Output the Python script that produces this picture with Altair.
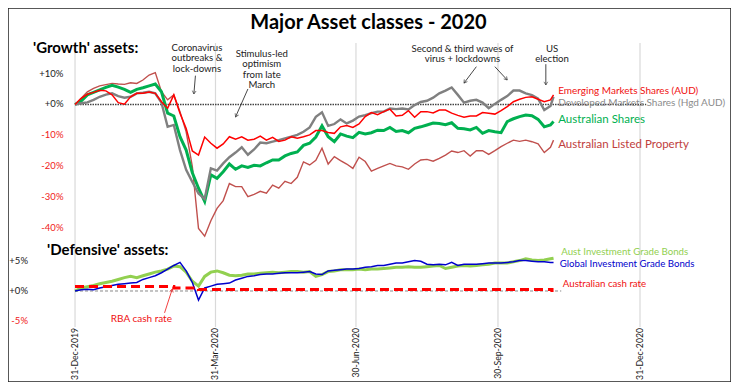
import altair as alt
import pandas as pd

# ---------------- data ----------------
grid_start = "2019-12-31"
n_grid = 78            # one reading every 4 days
end_date = "2020-11-05"

em_shares = [0, 2.0, 3.3, 3.9, 4.6, 4.4, 3.1, 0.6, 0.1, 2.5, 3.6, 3.6, 4.0, 3.6, 0.9, -1.2, 3.1, -2.8, -7.7, -15.0,
             -16.3, -10.5, -12.5, -14.1, -12.7, -10.4, -11.2, -10.4, -11.5, -11.2, -10.2, -11.5, -10.6, -11.9, -11.5, -10.4, -10.9, -10.4, -9.8, -8.4,
             -8.4, -9.0, -9.3, -7.2, -6.8, -7.4, -6.3, -3.9, -2.6, -3.3, -2.3, -1.5, -3.7, -3.5, -2.0, -4.1, -2.3, -2.3, -2.7, -1.8,
             -1.8, -2.8, -3.5, -4.1, -3.7, -3.7, -2.6, -2.8, -3.1, -2.0, -0.7, 0.9, 1.7, 2.3, 2.5, 1.7, 0.9, 1.5, 3.1]
dm_shares = [0, 0.4, 0.7, 1.5, 2.5, 3.2, 3.6, 2.7, 2.2, 2.5, 3.6, 3.8, 4.1, 3.6, 0.6, -7.2, -6.6, -14.7, -21.1, -25.0,
             -28.7, -30.5, -20.6, -21.3, -19.0, -17.0, -15.5, -13.8, -16.2, -14.5, -12.3, -12.5, -12.0, -11.5, -10.9, -10.4, -9.8, -8.8, -7.4, -4.0,
             -2.5, -6.9, -6.3, -4.8, -6.1, -5.2, -3.9, -3.4, -2.8, -2.3, -2.3, -1.3, -1.5, -1.3, -1.6, -0.2, 0.8, 1.2, 2.2, 3.6,
             4.5, 5.5, 3.1, 0.6, 1.2, 1.5, 0.6, -1.2, 0.2, 1.5, 2.7, 4.5, 4.5, 3.6, 3.0, 1.9, -1.8, -0.5, 2.5]
aus_shares = [0, 1.1, 3.1, 3.9, 4.7, 5.5, 6.2, 5.6, 4.9, 3.9, 4.9, 5.4, 6.0, 6.6, 4.1, -2.8, -3.7, -10.4, -14.7, -22.0,
              -27.0, -31.3, -22.7, -23.8, -21.7, -19.2, -20.9, -19.8, -20.3, -19.6, -19.8, -18.8, -17.9, -17.9, -16.6, -15.8, -15.3, -13.2, -12.5, -10.5,
              -6.9, -10.4, -12.0, -9.5, -10.2, -10.7, -9.0, -9.5, -9.1, -8.3, -8.4, -7.4, -8.7, -8.4, -9.1, -7.7, -7.2, -6.6, -6.0, -6.1,
              -6.5, -5.9, -7.7, -7.8, -8.2, -7.4, -9.3, -8.4, -8.8, -9.1, -5.5, -4.6, -3.9, -3.4, -3.6, -4.8, -7.2, -6.6, -5.5]
aus_property = [0, 2.0, 4.1, 5.2, 6.0, 6.4, 6.8, 6.6, 6.5, 7.0, 6.8, 7.9, 9.5, 10.3, 4.1, 1.5, 3.1, -2.3, -8.8, -20.0,
                -40.0, -42.5, -37.5, -33.5, -31.0, -25.5, -26.5, -26.5, -29.7, -29.0, -28.0, -28.6, -26.0, -27.0, -24.8, -25.5, -23.5, -18.5, -19.5, -18.0,
                -14.1, -19.2, -16.8, -18.1, -19.2, -20.6, -17.0, -18.4, -21.5, -20.6, -19.8, -19.0, -19.8, -20.1, -20.9, -19.2, -17.9, -17.7, -18.3, -17.4,
                -16.3, -15.0, -15.5, -14.9, -16.6, -14.9, -14.9, -16.1, -14.9, -13.6, -12.5, -11.5, -11.9, -11.5, -12.0, -12.7, -15.5, -13.8, -11.5]
global_bonds = [0, 0.2, 0.3, 0.2, 0.5, 0.7, 0.9, 1.1, 1.2, 1.3, 1.4, 1.9, 2.2, 2.5, 3.0, 3.6, 4.2, 4.7, 3.3, 1.4,
                -1.5, 0.5, 0.8, 1.1, 1.2, 1.3, 1.8, 2.1, 2.4, 2.5, 2.7, 2.8, 2.8, 2.9, 3.0, 3.0, 3.0, 3.1, 3.2, 2.8,
                2.7, 3.3, 3.4, 3.5, 3.6, 3.6, 3.7, 3.9, 4.0, 4.2, 4.2, 4.4, 4.6, 4.6, 4.8, 5.0, 4.9, 4.4, 4.3, 4.4,
                4.3, 4.7, 4.2, 4.4, 4.4, 4.4, 4.5, 4.6, 4.6, 4.6, 4.7, 4.8, 5.0, 5.0, 4.9, 4.8, 4.8, 4.7, 4.7]
aus_bonds = [0, 0.5, 0.7, 0.9, 1.2, 1.4, 1.6, 1.9, 2.2, 2.4, 2.2, 2.5, 2.8, 3.1, 3.3, 3.6, 4.1, 4.0, 3.1, 1.6,
             0.8, 2.4, 3.1, 3.3, 3.0, 2.6, 2.5, 2.6, 2.8, 2.8, 2.9, 3.0, 3.1, 3.0, 3.1, 3.2, 3.2, 3.1, 3.2, 2.4,
             2.7, 3.2, 3.3, 3.5, 3.5, 3.5, 3.6, 3.5, 3.6, 3.6, 3.7, 3.8, 3.9, 3.9, 4.0, 3.9, 3.9, 4.0, 4.1, 4.2,
             3.7, 3.9, 4.1, 4.2, 4.1, 4.2, 4.3, 4.4, 4.6, 4.6, 4.6, 4.8, 5.0, 5.3, 5.1, 5.0, 5.1, 5.3, 5.4]

cash_dates = ["2019-12-31", "2020-03-04", "2020-03-20", "2020-11-04", "2020-11-05"]
cash_rate = [0.75, 0.5, 0.25, 0.1, 0.1]

# axis ticks
top_ticks = [10, 0, -10, -20, -30, -40]
top_tick_labels = ["+10%", "+0%", "-10%", "-20%", "-30%", "-40%"]
bot_ticks = [5, 0, -5]
bot_tick_labels = ["+5%", "+0%", "-5%"]
x_tick_dates = ["2019-12-31", "2020-03-31", "2020-06-30", "2020-09-30", "2020-12-31"]
x_tick_labels = ["31-Dec-2019", "31-Mar-2020", "30-Jun-2020", "30-Sep-2020", "31-Dec-2020"]

# end-of-line labels
top_label_texts = ["Emerging Markets Shares (AUD)", "Developed Markets Shares (Hgd AUD)",
                   "Australian Shares", "Australian Listed Property"]
top_label_values = [4.3, 0.6, -5.0, -13.1]
top_label_date = "2020-11-08"
bot_label_texts = ["Aust Investment Grade Bonds", "Global Investment Grade Bonds", "Australian cash rate", "RBA cash rate"]
bot_label_dates = ["2020-11-10", "2020-11-09", "2020-11-11", "2020-02-12"]
bot_label_values = [6.4, 4.4, 1.1, -4.6]

# annotations (top panel), one multi-line text each; value = first line position
ann_dates = ["2020-03-19", "2020-04-30", "2020-09-07", "2020-11-04"]
ann_values = [18.2, 16.3, 17.9, 17.9]
ann_texts = ["Coronavirus\noutbreaks &\nlock-downs", "Stimulus-led\noptimism\nfrom late\nMarch",
             "Second & third waves of\nvirus + lockdowns", "US\nelection"]
arrow_tail_dates = ["2020-03-18", "2020-04-21", "2020-09-16", "2020-09-28", "2020-10-31"]
arrow_tail_values = [9.3, 5.0, 12.2, 12.2, 13.0]
arrow_tip_dates = ["2020-03-17", "2020-04-13", "2020-09-08", "2020-10-06", "2020-10-31"]
arrow_tip_values = [3.4, -4.0, 6.9, 7.9, 6.3]
arrow_angles = [6, 24, 35, 319, 0]
rba_arrow = {"d1": "2020-02-27", "v1": -3.6, "d2": "2020-03-03", "v2": 0.33, "ang": 196}

# ---------------- layout / styles ----------------
W, H = 723, 374
FONT = "Lato"
X_DOMAIN = [alt.DateTime(year=2019, month=11, date=17, hours=14),
            alt.DateTime(year=2021, month=2, date=27, hours=23)]
TOP_DOMAIN = [-89.52, 31.13]
BOT_DOMAIN = [-14.97, 46.55]
ARROW_SHAPE = "M-0.6,-1L0,0L0.6,-1"

dates = list(pd.date_range(grid_start, periods=n_grid, freq="4D")) + [pd.Timestamp(end_date)]


def X(f="date"):
    return alt.X(f"{f}:T", scale=alt.Scale(domain=X_DOMAIN, nice=False), axis=None)


def YT(f="value"):
    return alt.Y(f"{f}:Q", scale=alt.Scale(domain=TOP_DOMAIN, nice=False, zero=False), axis=None)


def YB(f="value"):
    return alt.Y(f"{f}:Q", scale=alt.Scale(domain=BOT_DOMAIN, nice=False, zero=False), axis=None)


def series_df(vals):
    return pd.DataFrame({"date": dates, "value": vals})


layers = []

# vertical gridlines
grid_df = pd.DataFrame({"date": pd.to_datetime(x_tick_dates)})
layers.append(alt.Chart(grid_df).mark_rule(color="#D9D9D9", strokeWidth=1.2).encode(
    x=X(), y=alt.value(35), y2=alt.value(319)))

# zero lines
zt = pd.DataFrame({"d1": pd.to_datetime(["2019-12-31"]), "d2": pd.to_datetime(["2021-01-04"]), "value": [0]})
layers.append(alt.Chart(zt).mark_rule(color="#444", strokeWidth=1.6, strokeDash=[1.5, 1]).encode(
    x=X("d1"), x2="d2:T", y=YT()))
zb = pd.DataFrame({"d1": pd.to_datetime(["2019-12-31"]), "d2": pd.to_datetime(["2020-11-10"]), "value": [0]})
layers.append(alt.Chart(zb).mark_rule(color="#888", strokeWidth=1, strokeDash=[3, 2]).encode(
    x=X("d1"), x2="d2:T", y=YB()))

# growth series
for vals, col, sw in [(aus_property, "#C0504D", 1.4), (aus_shares, "#00B050", 3.0),
                      (dm_shares, "#808080", 2.4), (em_shares, "#FF0000", 1.5)]:
    layers.append(alt.Chart(series_df(vals)).mark_line(color=col, strokeWidth=sw).encode(x=X(), y=YT()))

# defensive series
layers.append(alt.Chart(series_df(aus_bonds)).mark_line(color="#92D050", strokeWidth=3).encode(x=X(), y=YB()))
layers.append(alt.Chart(series_df(global_bonds)).mark_line(color="#0000CC", strokeWidth=1.5).encode(x=X(), y=YB()))
cash_df = pd.DataFrame({"date": pd.to_datetime(cash_dates), "value": cash_rate})
layers.append(alt.Chart(cash_df).mark_line(color="#FF0000", strokeWidth=3, strokeDash=[9, 5],
                                           interpolate="step-after").encode(x=X(), y=YB()))

# end labels (top)
tl = pd.DataFrame({"date": pd.to_datetime([top_label_date] * 4), "value": top_label_values,
                   "text": top_label_texts,
                   "col": ["#F01010", "#8C8C8C", "#00B050", "#C0403D"],
                   "fs": [10, 10, 11.5, 11.5]})
layers.append(alt.Chart(tl).mark_text(align="left", baseline="middle", font=FONT).encode(
    x=X(), y=YT(), text="text:N", color=alt.Color("col:N", scale=None), size=alt.Size("fs:Q", scale=None)))

# labels (bottom)
bl = pd.DataFrame({"date": pd.to_datetime(bot_label_dates), "value": bot_label_values,
                   "text": bot_label_texts,
                   "col": ["#92D050", "#0000CC", "#F01010", "#F01010"]})
layers.append(alt.Chart(bl.iloc[:3]).mark_text(align="left", baseline="middle", font=FONT, fontSize=9.7).encode(
    x=X(), y=YB(), text="text:N", color=alt.Color("col:N", scale=None)))
layers.append(alt.Chart(bl.iloc[3:]).mark_text(align="center", baseline="middle", font=FONT, fontSize=10).encode(
    x=X(), y=YB(), text="text:N", color=alt.Color("col:N", scale=None)))

# annotations text
an = pd.DataFrame({"date": pd.to_datetime(ann_dates), "value": ann_values, "text": ann_texts})
layers.append(alt.Chart(an).mark_text(align="center", baseline="middle", font=FONT, fontSize=9.6, color="#222",
                                      lineBreak="\n", lineHeight=10.4).encode(
    x=X(), y=YT(), text="text:N"))

# arrows (top)
ar = pd.DataFrame({"d1": pd.to_datetime(arrow_tail_dates), "v1": arrow_tail_values,
                   "d2": pd.to_datetime(arrow_tip_dates), "v2": arrow_tip_values, "ang": arrow_angles})
layers.append(alt.Chart(ar).mark_rule(color="#333", strokeWidth=0.9).encode(
    x=X("d1"), x2="d2:T", y=YT("v1"), y2="v2:Q"))
layers.append(alt.Chart(ar).mark_point(shape=ARROW_SHAPE, filled=False, size=40, color="#333", strokeWidth=0.9).encode(
    x=X("d2"), y=YT("v2"), angle=alt.Angle("ang:Q", scale=None)))

# RBA arrow (bottom)
rb = pd.DataFrame({"d1": pd.to_datetime([rba_arrow["d1"]]), "v1": [rba_arrow["v1"]],
                   "d2": pd.to_datetime([rba_arrow["d2"]]), "v2": [rba_arrow["v2"]], "ang": [rba_arrow["ang"]]})
layers.append(alt.Chart(rb).mark_rule(color="#F01010", strokeWidth=0.8).encode(
    x=X("d1"), x2="d2:T", y=YB("v1"), y2="v2:Q"))
layers.append(alt.Chart(rb).mark_point(shape=ARROW_SHAPE, filled=False, size=40, color="#F01010", strokeWidth=0.8).encode(
    x=X("d2"), y=YB("v2"), angle=alt.Angle("ang:Q", scale=None)))

# y tick labels
tt = pd.DataFrame({"value": top_ticks, "text": top_tick_labels,
                   "col": ["#1a1a1a" if v >= 0 else "#F02020" for v in top_ticks]})
layers.append(alt.Chart(tt).mark_text(align="right", baseline="middle", font=FONT, fontSize=9.5).encode(
    x=alt.value(55.5), y=YT(), text="text:N", color=alt.Color("col:N", scale=None)))
bt = pd.DataFrame({"value": bot_ticks, "text": bot_tick_labels,
                   "col": ["#1a1a1a" if v >= 0 else "#F02020" for v in bot_ticks]})
layers.append(alt.Chart(bt).mark_text(align="right", baseline="middle", font=FONT, fontSize=9.5).encode(
    x=alt.value(20), y=YB(), text="text:N", color=alt.Color("col:N", scale=None)))

# x tick labels (rotated)
xt = pd.DataFrame({"date": pd.to_datetime(x_tick_dates), "text": x_tick_labels})
layers.append(alt.Chart(xt).mark_text(align="right", baseline="middle", angle=270, font=FONT, fontSize=8.7,
                                      color="#1a1a1a").encode(x=X(), y=alt.value(320), text="text:N"))

# titles
def title_layer(txt, x, y, size, align):
    return alt.Chart(pd.DataFrame({"t": [txt]})).mark_text(
        align=align, baseline="alphabetic", font=FONT, fontSize=size, fontWeight="bold", color="#000").encode(
        x=alt.value(x), y=alt.value(y), text="t:N")

layers.append(title_layer("Major Asset classes - 2020", 360.5, 20.5, 20, "center"))
layers.append(title_layer("'Growth' assets:", 25, 45, 15, "left"))
layers.append(title_layer("'Defensive' assets:", 39, 247, 15, "left"))

chart = alt.layer(*layers).resolve_scale(y="independent").properties(
    width=W, height=H, padding=0, background="white"
).configure_view(stroke="#222", strokeWidth=1.5)

chart.save("out.html", embed_options={"renderer": "svg", "actions": False})
